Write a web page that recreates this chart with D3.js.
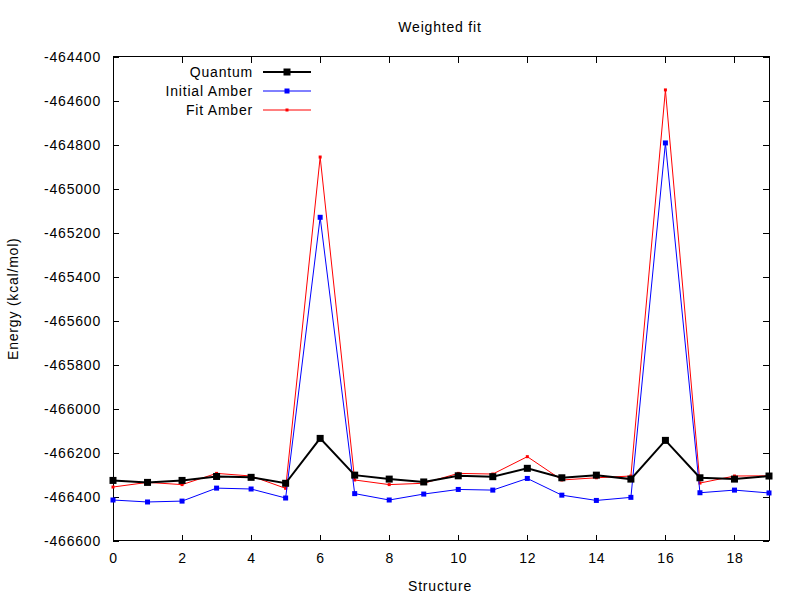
<!DOCTYPE html>
<html><head><meta charset="utf-8">
<script src="https://cdn.jsdelivr.net/npm/d3@7"></script>
<style>body{margin:0;background:#fff}text{font-family:"Liberation Sans",Arial,sans-serif;letter-spacing:0.8px;}</style>
</head><body><svg id="c" width="800" height="600"></svg>
<script>
const structures = d3.range(0, 20);
const quantum = [-466326,-466335,-466326,-466308,-466312,-466339,-466135,-466302,-466320,-466333,
                 -466305,-466309,-466271,-466314,-466302,-466320,-466144,-466314,-466320,-466306];
const initialAmber = [-466415,-466424,-466420,-466361,-466365,-466406,-465130,-466386,-466415,-466388,
                      -466367,-466370,-466317,-466393,-466417,-466403,-464792,-466382,-466370,-466383];
const fitAmber = [-466356,-466335,-466345,-466294,-466306,-466362,-464856,-466324,-466345,-466339,
                  -466294,-466297,-466218,-466324,-466314,-466306,-464551,-466338,-466306,-466305];
const xTicks = [0,2,4,6,8,10,12,14,16,18];
const yTicks = d3.range(-466600, -464399, 200);

const svg = d3.select("#c");
const L=113, R=769, T=56.7, B=540.7;
const FS = 14;
const x = d3.scaleLinear().domain([0,19]).range([L,R]);
const y = d3.scaleLinear().domain([-466600,-464400]).range([B,T]);

svg.append("rect").attr("x",L).attr("y",T).attr("width",R-L).attr("height",B-T)
  .attr("fill","none").attr("stroke","#000").attr("stroke-width",1).attr("shape-rendering","crispEdges");

const fmt = d => d3.format("d")(d).replace("−","-");
svg.append("g").attr("transform",`translate(0,${B})`)
  .call(d3.axisBottom(x).tickValues(xTicks).tickSizeInner(-6).tickSizeOuter(0).tickPadding(12).tickFormat(d3.format("d")))
  .call(g=>{g.select(".domain").remove();g.selectAll("text").attr("font-size",FS).attr("fill","#000");g.selectAll("line").attr("shape-rendering","crispEdges");});
svg.append("g").attr("transform",`translate(0,${T})`)
  .call(d3.axisTop(x).tickValues(xTicks).tickSizeInner(-6).tickSizeOuter(0).tickFormat(""))
  .call(g=>{g.select(".domain").remove();g.selectAll("line").attr("shape-rendering","crispEdges");});
svg.append("g").attr("transform",`translate(${L},0)`)
  .call(d3.axisLeft(y).tickValues(yTicks).tickSizeInner(-6).tickSizeOuter(0).tickPadding(12).tickFormat(fmt))
  .call(g=>{g.select(".domain").remove();g.selectAll("text").attr("font-size",FS).attr("fill","#000");g.selectAll("line").attr("shape-rendering","crispEdges");});
svg.append("g").attr("transform",`translate(${R},0)`)
  .call(d3.axisRight(y).tickValues(yTicks).tickSizeInner(-6).tickSizeOuter(0).tickFormat(""))
  .call(g=>{g.select(".domain").remove();g.selectAll("line").attr("shape-rendering","crispEdges");});

svg.append("text").attr("x",440).attr("y",32).attr("text-anchor","middle").attr("font-size",FS).text("Weighted fit");
svg.append("text").attr("x",440).attr("y",591).attr("text-anchor","middle").attr("font-size",FS).text("Structure");
svg.append("text").attr("transform",`translate(18,${(T+B)/2}) rotate(-90)`).attr("text-anchor","middle").attr("font-size",FS).text("Energy (kcal/mol)");

const series = [
  {name:"Quantum", vals:quantum, color:"#000", lw:2, ms:7},
  {name:"Initial Amber", vals:initialAmber, color:"#0000ff", lw:1, ms:5},
  {name:"Fit Amber", vals:fitAmber, color:"#ff0000", lw:1, ms:3}
];
const line = d3.line().x((d,i)=>x(structures[i])).y(d=>y(d));
[...series].reverse().forEach(s=>{
  svg.append("path").datum(s.vals).attr("d",line).attr("fill","none").attr("stroke",s.color).attr("stroke-width",s.lw);
  svg.append("g").selectAll("rect").data(s.vals).join("rect")
    .attr("x",(d,i)=>x(structures[i])-s.ms/2).attr("y",d=>y(d)-s.ms/2)
    .attr("width",s.ms).attr("height",s.ms).attr("fill",s.color);
});

series.forEach((s,i)=>{
  const ly = 72 + i*19;
  svg.append("text").attr("x",253).attr("y",ly+5).attr("text-anchor","end").attr("font-size",FS).text(s.name);
  svg.append("line").attr("x1",263).attr("x2",311).attr("y1",ly).attr("y2",ly).attr("stroke",s.color).attr("stroke-width",s.lw);
  svg.append("rect").attr("x",287-s.ms/2).attr("y",ly-s.ms/2).attr("width",s.ms).attr("height",s.ms).attr("fill",s.color);
});
</script></body></html>
